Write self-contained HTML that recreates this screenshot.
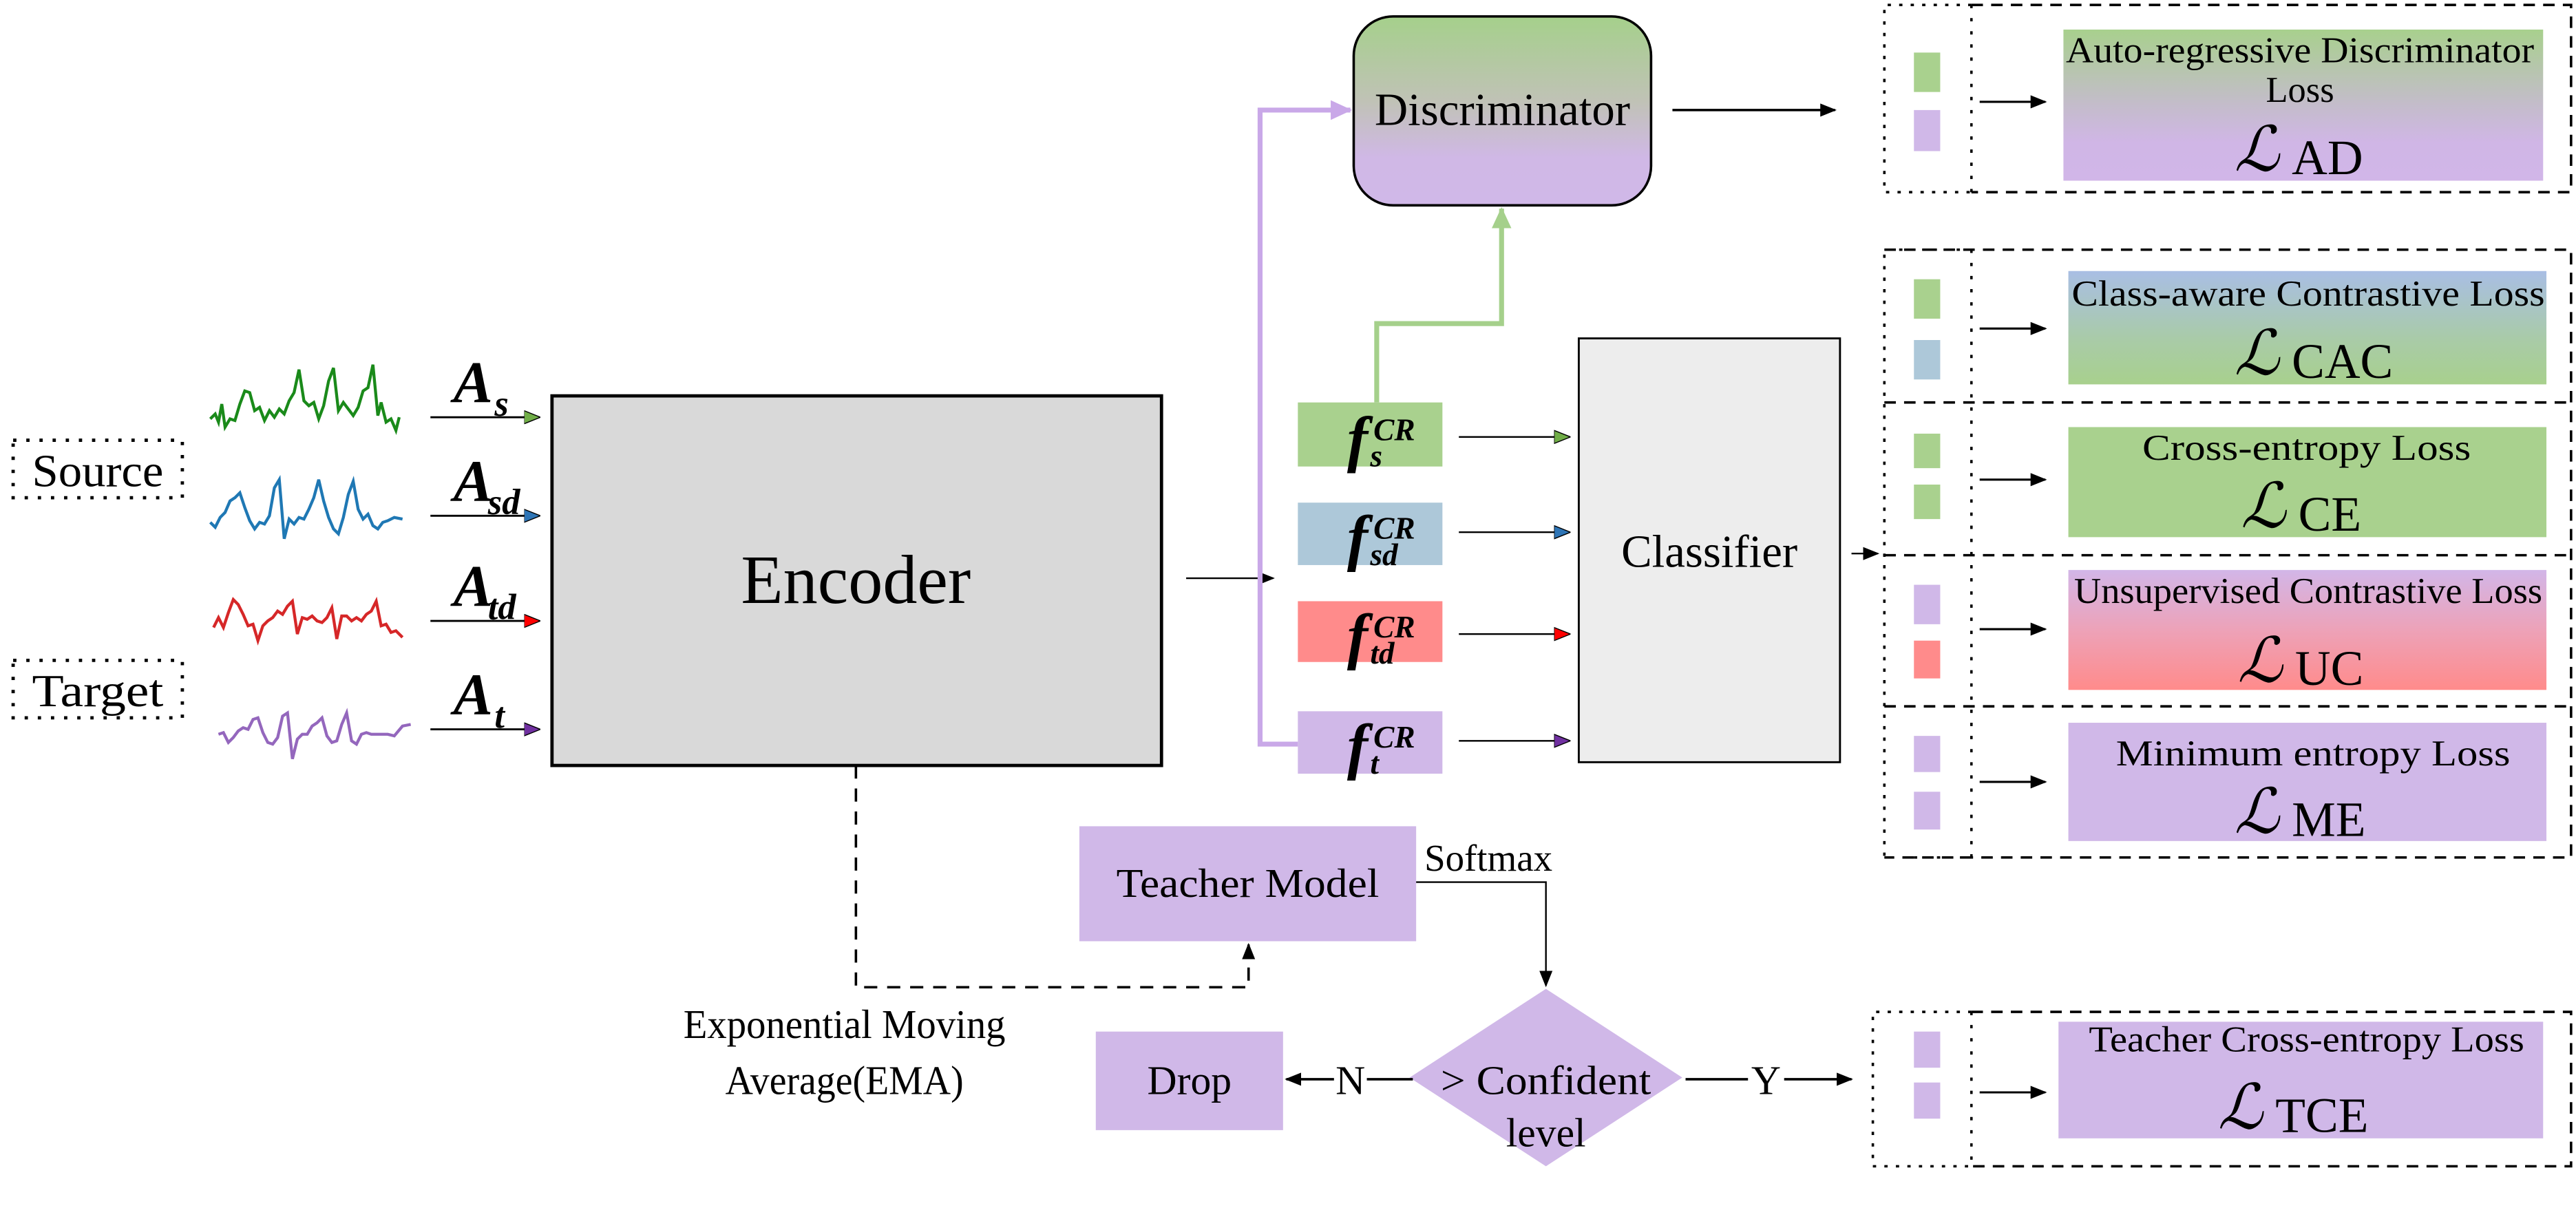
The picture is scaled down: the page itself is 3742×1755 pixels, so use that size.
<!DOCTYPE html>
<html><head><meta charset="utf-8"><style>
html,body{margin:0;padding:0;background:#fff;}
svg{display:block;}
svg text{font-family:"Liberation Serif","Times New Roman",serif;fill:#000;}
</style></head><body>
<svg width="3742" height="1755" viewBox="0 0 1568 735.4" preserveAspectRatio="none" xmlns="http://www.w3.org/2000/svg" font-family="Liberation Serif, serif">
<defs>
<linearGradient id="gDisc" x1="0" y1="0" x2="0" y2="1"><stop offset="0" stop-color="#a5d08b"/><stop offset="0.45" stop-color="#c0c2b6"/><stop offset="0.75" stop-color="#d0b8e6"/><stop offset="1" stop-color="#d0b8e8"/></linearGradient>
<linearGradient id="gAD" x1="0" y1="0" x2="0" y2="1"><stop offset="0" stop-color="#a8d08d"/><stop offset="0.5" stop-color="#c4bccb"/><stop offset="0.75" stop-color="#d0b6e6"/><stop offset="1" stop-color="#d1b6e8"/></linearGradient>
<linearGradient id="gCAC" x1="0" y1="0" x2="0" y2="1"><stop offset="0" stop-color="#a9bee4"/><stop offset="0.6" stop-color="#a9cba8"/><stop offset="1" stop-color="#a8d08d"/></linearGradient>
<linearGradient id="gUC" x1="0" y1="0" x2="0" y2="1"><stop offset="0" stop-color="#d2b6e8"/><stop offset="0.5" stop-color="#eda2b8"/><stop offset="1" stop-color="#ff8b8b"/></linearGradient>
<marker id="ab" markerWidth="10" markerHeight="10" refX="9" refY="5" orient="auto" markerUnits="userSpaceOnUse"><path d="M0,1 L10,5 L0,9 Z" fill="#000"/></marker>
<marker id="ag" markerWidth="10" markerHeight="10" refX="9" refY="5" orient="auto" markerUnits="userSpaceOnUse"><path d="M0,1 L10,5 L0,9 Z" fill="#70ad47" stroke="#000" stroke-width="0.6"/></marker>
<marker id="abl" markerWidth="10" markerHeight="10" refX="9" refY="5" orient="auto" markerUnits="userSpaceOnUse"><path d="M0,1 L10,5 L0,9 Z" fill="#2e75b6" stroke="#000" stroke-width="0.6"/></marker>
<marker id="ar" markerWidth="10" markerHeight="10" refX="9" refY="5" orient="auto" markerUnits="userSpaceOnUse"><path d="M0,1 L10,5 L0,9 Z" fill="#ff0000" stroke="#000" stroke-width="0.6"/></marker>
<marker id="ap" markerWidth="10" markerHeight="10" refX="9" refY="5" orient="auto" markerUnits="userSpaceOnUse"><path d="M0,1 L10,5 L0,9 Z" fill="#7030a0" stroke="#000" stroke-width="0.6"/></marker>
<marker id="apl" markerWidth="14" markerHeight="14" refX="12" refY="7" orient="auto" markerUnits="userSpaceOnUse"><path d="M0,1 L13,7 L0,13 Z" fill="#c9a8e8"/></marker>
<marker id="agl" markerWidth="14" markerHeight="14" refX="12" refY="7" orient="auto" markerUnits="userSpaceOnUse"><path d="M0,1 L13,7 L0,13 Z" fill="#a5d08b"/></marker>
</defs>

<rect x="8" y="268" width="103" height="35" fill="none" stroke="#000" stroke-width="2" stroke-dasharray="2,6"/>
<text x="59.5" y="296" font-size="28" text-anchor="middle" textLength="80" lengthAdjust="spacingAndGlyphs">Source</text>
<rect x="8" y="402" width="103" height="35" fill="none" stroke="#000" stroke-width="2" stroke-dasharray="2,6"/>
<text x="59.5" y="430" font-size="28" text-anchor="middle" textLength="80" lengthAdjust="spacingAndGlyphs">Target</text>

<polyline fill="none" stroke="#1a8a1a" stroke-width="1.8" points="128,255 131,252 133,257 135,246 137,260 140,255 143,256 146,246 149,238 152,239 155,250 158,248 161,256 164,250 167,254 170,249 173,252 176,244 179,239 182,225 185,244 188,247 191,245 194,255 197,247 200,232 203,224 206,250 209,245 212,249 215,253 218,248 221,238 224,236 227,222 230,253 232,245 235,257 238,255 241,262 243,254"/>
<polyline fill="none" stroke="#1f78b4" stroke-width="1.8" points="128,318 131,321 134,315 137,312 140,305 143,303 146,300 149,309 152,317 155,322 158,318 161,319 164,314 167,297 170,292 173,328 176,316 179,319 182,315 185,316 188,310 191,303 194,292 197,305 200,315 203,322 206,325 209,315 212,301 215,293 218,310 221,316 224,313 227,320 230,322 233,318 236,317 240,315 245,316"/>
<polyline fill="none" stroke="#d62728" stroke-width="1.8" points="130,382 133,376 136,382 139,373 142,365 145,368 148,374 151,381 154,380 157,390 160,381 163,378 166,376 169,372 172,374 175,369 178,366 181,386 184,376 187,377 190,375 193,378 196,379 199,376 202,370 205,389 208,375 211,375 214,378 217,376 220,378 223,374 226,372 229,366 232,381 235,380 238,385 241,384 245,388"/>
<polyline fill="none" stroke="#9467bd" stroke-width="1.8" points="133,447 136,446 139,452 142,449 145,445 148,443 151,444 154,438 157,437 160,446 163,452 166,453 169,449 172,436 175,434 178,462 181,450 184,447 187,447 190,442 193,440 196,437 199,448 202,452 205,451 208,441 211,434 214,451 217,453 220,447 223,446 226,447 230,447 236,447 240,448 245,442 250,441"/>

<line x1="262" y1="254" x2="328" y2="254" stroke="#000" stroke-width="1.2" marker-end="url(#ag)"/>
<line x1="262" y1="314" x2="328" y2="314" stroke="#000" stroke-width="1.2" marker-end="url(#abl)"/>
<line x1="262" y1="378" x2="328" y2="378" stroke="#000" stroke-width="1.2" marker-end="url(#ar)"/>
<line x1="262" y1="444" x2="328" y2="444" stroke="#000" stroke-width="1.2" marker-end="url(#ap)"/>
<g font-weight="bold" font-style="italic">
<text x="276" y="245" font-size="36">A</text><text x="301" y="253" font-size="22">s</text>
<text x="276" y="305" font-size="36">A</text><text x="297" y="313" font-size="22">sd</text>
<text x="276" y="369" font-size="36">A</text><text x="297" y="377" font-size="22">td</text>
<text x="276" y="435" font-size="36">A</text><text x="301" y="443" font-size="22">t</text>
</g>

<rect x="336" y="241" width="371" height="225" fill="#d9d9d9" stroke="#000" stroke-width="2"/>
<text x="521" y="367" font-size="42" text-anchor="middle">Encoder</text>
<line x1="722" y1="352" x2="775" y2="352" stroke="#000" stroke-width="1" marker-end="url(#ab)"/>

<polyline points="790,453 767,453 767,67 822,67" fill="none" stroke="#c9a8e8" stroke-width="3" marker-end="url(#apl)"/>

<rect x="824" y="10" width="181" height="115" rx="24" fill="url(#gDisc)" stroke="#000" stroke-width="1.5"/>
<text x="914.5" y="76" font-size="28" text-anchor="middle">Discriminator</text>
<line x1="1018" y1="67" x2="1117" y2="67" stroke="#000" stroke-width="1.5" marker-end="url(#ab)"/>
<polyline points="838,245 838,197 914,197 914,127" fill="none" stroke="#a5d08b" stroke-width="3" marker-end="url(#agl)"/>

<rect x="790" y="245" width="88" height="39" fill="#a9d18e"/>
<rect x="790" y="306" width="88" height="38" fill="#adc8d9"/>
<rect x="790" y="366" width="88" height="37" fill="#ff8b8b"/>
<rect x="790" y="433" width="88" height="38" fill="#d0b8e8"/>
<g font-weight="bold" font-style="italic">
<text x="820" y="280" font-size="38">f</text><text x="836" y="268" font-size="19">CR</text><text x="834" y="284" font-size="19">s</text>
<text x="820" y="340" font-size="38">f</text><text x="836" y="328" font-size="19">CR</text><text x="834" y="344" font-size="19">sd</text>
<text x="820" y="400" font-size="38">f</text><text x="836" y="388" font-size="19">CR</text><text x="834" y="404" font-size="19">td</text>
<text x="820" y="467" font-size="38">f</text><text x="836" y="455" font-size="19">CR</text><text x="834" y="471" font-size="19">t</text>
</g>
<line x1="888" y1="266" x2="955" y2="266" stroke="#000" stroke-width="1" marker-end="url(#ag)"/>
<line x1="888" y1="324" x2="955" y2="324" stroke="#000" stroke-width="1" marker-end="url(#abl)"/>
<line x1="888" y1="386" x2="955" y2="386" stroke="#000" stroke-width="1" marker-end="url(#ar)"/>
<line x1="888" y1="451" x2="955" y2="451" stroke="#000" stroke-width="1" marker-end="url(#ap)"/>

<rect x="961" y="206" width="159" height="258" fill="#ededed" stroke="#000" stroke-width="1.2"/>
<text x="1040.5" y="345" font-size="28" text-anchor="middle">Classifier</text>
<line x1="1127" y1="337" x2="1143" y2="337" stroke="#000" stroke-width="1" marker-end="url(#ab)"/>

<g fill="none" stroke="#000" stroke-width="1.5">
<path d="M1200,3 L1147,3 L1147,117 L1200,117" stroke-dasharray="2,5"/>
<line x1="1200" y1="3" x2="1200" y2="117" stroke-dasharray="2,6"/>
<path d="M1200,3 L1565,3 L1565,117 L1200,117" stroke-dasharray="7,5"/>
</g>
<rect x="1165" y="32" width="16" height="24" fill="#a9d18e"/>
<rect x="1165" y="67" width="16" height="25" fill="#d0b8e8"/>
<line x1="1205" y1="62" x2="1245" y2="62" stroke="#000" stroke-width="1.3" marker-end="url(#ab)"/>
<rect x="1256" y="18" width="292" height="92" fill="url(#gAD)"/>
<text x="1400" y="38" font-size="22" text-anchor="middle" textLength="285" lengthAdjust="spacingAndGlyphs">Auto-regressive Discriminator</text>
<text x="1400" y="62" font-size="22" text-anchor="middle">Loss</text>
<text x="1360" y="104" font-size="38" font-style="italic">ℒ</text><text x="1395" y="106" font-size="30">AD</text>

<g fill="none" stroke="#000" stroke-width="1.5">
<path d="M1200,152 L1147,152 L1147,522 L1200,522" stroke-dasharray="2,5"/>
<line x1="1200" y1="152" x2="1200" y2="522" stroke-dasharray="2,6"/>
<path d="M1147,152 L1565,152 L1565,522 L1147,522" stroke-dasharray="7,5"/>
<line x1="1147" y1="245" x2="1565" y2="245" stroke-dasharray="7,5"/>
<line x1="1147" y1="338" x2="1565" y2="338" stroke-dasharray="7,5"/>
<line x1="1147" y1="430" x2="1565" y2="430" stroke-dasharray="7,5"/>
</g>
<rect x="1165" y="170" width="16" height="24" fill="#a9d18e"/>
<rect x="1165" y="207" width="16" height="24" fill="#adc8d9"/>
<rect x="1165" y="264" width="16" height="21" fill="#a9d18e"/>
<rect x="1165" y="295" width="16" height="21" fill="#a9d18e"/>
<rect x="1165" y="356" width="16" height="24" fill="#d0b8e8"/>
<rect x="1165" y="390" width="16" height="23" fill="#ff8b8b"/>
<rect x="1165" y="448" width="16" height="22" fill="#d0b8e8"/>
<rect x="1165" y="482" width="16" height="23" fill="#d0b8e8"/>
<line x1="1205" y1="200" x2="1245" y2="200" stroke="#000" stroke-width="1.3" marker-end="url(#ab)"/>
<line x1="1205" y1="292" x2="1245" y2="292" stroke="#000" stroke-width="1.3" marker-end="url(#ab)"/>
<line x1="1205" y1="383" x2="1245" y2="383" stroke="#000" stroke-width="1.3" marker-end="url(#ab)"/>
<line x1="1205" y1="476" x2="1245" y2="476" stroke="#000" stroke-width="1.3" marker-end="url(#ab)"/>

<rect x="1259" y="165" width="291" height="69" fill="url(#gCAC)"/>
<text x="1405" y="186" font-size="22" text-anchor="middle" textLength="288" lengthAdjust="spacingAndGlyphs">Class-aware Contrastive Loss</text>
<text x="1360" y="228" font-size="38" font-style="italic">ℒ</text><text x="1395" y="230" font-size="30">CAC</text>

<rect x="1259" y="260" width="291" height="67" fill="#a9d18e"/>
<text x="1404" y="280" font-size="22" text-anchor="middle" textLength="200" lengthAdjust="spacingAndGlyphs">Cross-entropy Loss</text>
<text x="1364" y="321" font-size="38" font-style="italic">ℒ</text><text x="1399" y="323" font-size="30">CE</text>

<rect x="1259" y="347" width="291" height="73" fill="url(#gUC)"/>
<text x="1405" y="367" font-size="22" text-anchor="middle" textLength="285" lengthAdjust="spacingAndGlyphs">Unsupervised Contrastive Loss</text>
<text x="1362" y="415" font-size="38" font-style="italic">ℒ</text><text x="1397" y="417" font-size="30">UC</text>

<rect x="1259" y="440" width="291" height="72" fill="#d0b8e8"/>
<text x="1408" y="466" font-size="22" text-anchor="middle" textLength="240" lengthAdjust="spacingAndGlyphs">Minimum entropy Loss</text>
<text x="1360" y="507" font-size="38" font-style="italic">ℒ</text><text x="1395" y="509" font-size="30">ME</text>

<g fill="none" stroke="#000" stroke-width="1.5">
<path d="M1200,616 L1140,616 L1140,710 L1200,710" stroke-dasharray="2,5"/>
<line x1="1200" y1="616" x2="1200" y2="710" stroke-dasharray="2,6"/>
<path d="M1200,616 L1565,616 L1565,710 L1200,710" stroke-dasharray="7,5"/>
</g>
<rect x="1165" y="628" width="16" height="22" fill="#d0b8e8"/>
<rect x="1165" y="659" width="16" height="22" fill="#d0b8e8"/>
<line x1="1205" y1="665" x2="1245" y2="665" stroke="#000" stroke-width="1.3" marker-end="url(#ab)"/>
<rect x="1253" y="622" width="295" height="71" fill="#d0b8e8"/>
<text x="1404" y="640" font-size="22" text-anchor="middle" textLength="265" lengthAdjust="spacingAndGlyphs">Teacher Cross-entropy Loss</text>
<text x="1350" y="687" font-size="38" font-style="italic">ℒ</text><text x="1385" y="689" font-size="30">TCE</text>

<polyline points="521,466 521,601 760,601 760,575" fill="none" stroke="#000" stroke-width="1.5" stroke-dasharray="8,6" marker-end="url(#ab)"/>
<rect x="657" y="503" width="205" height="70" fill="#d0b8e8"/>
<text x="759.5" y="546" font-size="25" text-anchor="middle" textLength="160" lengthAdjust="spacingAndGlyphs">Teacher Model</text>
<text x="867" y="530" font-size="23">Softmax</text>
<polyline points="862,537 941,537 941,600" fill="none" stroke="#000" stroke-width="1" marker-end="url(#ab)"/>
<text x="514" y="632" font-size="25" text-anchor="middle" textLength="196" lengthAdjust="spacingAndGlyphs">Exponential Moving</text>
<text x="514" y="666" font-size="25" text-anchor="middle" textLength="145" lengthAdjust="spacingAndGlyphs">Average(EMA)</text>

<polygon points="941,602 1024,656 941,710 858,656" fill="#d0b8e8"/>
<text x="941" y="666" font-size="25" text-anchor="middle" textLength="128" lengthAdjust="spacingAndGlyphs">&gt; Confident</text>
<text x="941" y="698" font-size="25" text-anchor="middle">level</text>
<rect x="667" y="628" width="114" height="60" fill="#d0b8e8"/>
<text x="724" y="666" font-size="25" text-anchor="middle">Drop</text>
<line x1="812" y1="657" x2="783" y2="657" stroke="#000" stroke-width="1.5" marker-end="url(#ab)"/>
<text x="822" y="666" font-size="25" text-anchor="middle">N</text>
<line x1="832" y1="657" x2="860" y2="657" stroke="#000" stroke-width="1.5"/>
<line x1="1026" y1="657" x2="1064" y2="657" stroke="#000" stroke-width="1.5"/>
<text x="1075" y="666" font-size="25" text-anchor="middle">Y</text>
<line x1="1086" y1="657" x2="1127" y2="657" stroke="#000" stroke-width="1.5" marker-end="url(#ab)"/>
</svg>
</body></html>
